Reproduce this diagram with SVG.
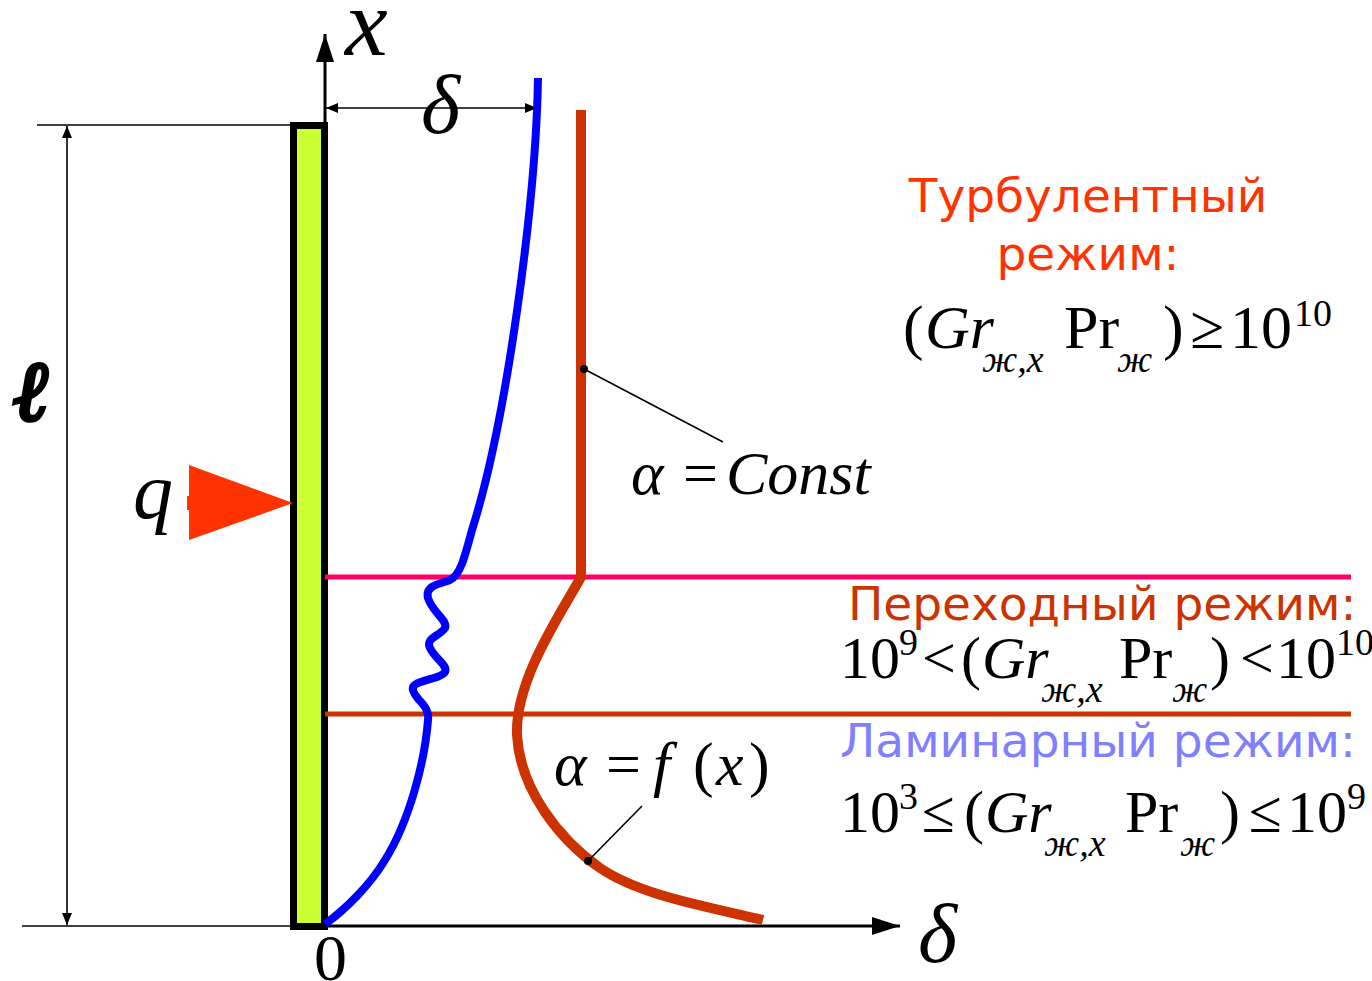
<svg xmlns="http://www.w3.org/2000/svg" width="1372" height="981" viewBox="0 0 1372 981">
<defs>
<style>
.m{font-family:"Liberation Serif","Times New Roman",serif;fill:#000}
.i{font-style:italic}
.ru{font-family:"DejaVu Sans",Verdana,sans-serif;font-size:47px}
.thin{stroke:#000;stroke-width:1.6;fill:none}
.ax{stroke:#000;stroke-width:3;fill:none}
</style>
<marker id="ah" viewBox="0 0 12 10" refX="12" refY="5" markerWidth="12" markerHeight="10" markerUnits="userSpaceOnUse" orient="auto-start-reverse"><path d="M0,0 L12,5 L0,10 z" fill="#000"/></marker>
<marker id="bh" viewBox="0 0 28 18" refX="28" refY="9" markerWidth="28" markerHeight="18" markerUnits="userSpaceOnUse" orient="auto"><path d="M0,0 L28,9 L0,18 z" fill="#000"/></marker>
</defs>
<rect width="1372" height="981" fill="#fff"/>

<g id="dimensions">
<line class="thin" x1="37" y1="125" x2="292" y2="125"/>
<line class="thin" x1="22" y1="926" x2="292" y2="926"/>
<line class="thin" x1="67" y1="126" x2="67" y2="925" marker-start="url(#ah)" marker-end="url(#ah)"/>
<line class="thin" x1="326" y1="108" x2="537" y2="108" marker-start="url(#ah)" marker-end="url(#ah)"/>
</g>

<g id="plate">
<rect x="293.5" y="125.5" width="31" height="801" fill="#CCFF33" stroke="#000" stroke-width="7"/>
</g>

<g id="axes">
<line class="ax" x1="325" y1="122" x2="325" y2="34" marker-end="url(#bh)"/>
<line class="ax" x1="325" y1="926" x2="900" y2="926" marker-end="url(#bh)"/>
</g>

<g id="zones">
<line x1="325" y1="577" x2="1351" y2="577" stroke="#FF0066" stroke-width="5"/>
<line x1="325" y1="714" x2="1351" y2="714" stroke="#CC3300" stroke-width="5"/>
</g>

<g id="heat-flux">
<rect x="187" y="496" width="4" height="14" fill="#FF3300"/>
<path d="M189,465 L293,503 L189,540 z" fill="#FF3300"/>
</g>

<g id="boundary-layer">
<path d="M538,78 C536,200 507,420 472,530 C464,560 460,575 450,580 C440,584 425,585 428,598 C432,612 448,620 445,628 C440,636 425,638 430,648 C436,660 448,665 445,672 C440,680 410,680 413,690 C415,700 430,705 428,720 C425,760 410,820 385,860 C370,885 345,910 325,924" fill="none" stroke="#0000FF" stroke-width="8"/>
</g>

<g id="alpha-curve">
<path d="M581,110 L581,577 C560,615 515,680 517,735 C520,790 560,840 600,868 C640,895 700,905 763,920" fill="none" stroke="#CC3300" stroke-width="10"/>
</g>

<g id="connectors">
<line class="thin" x1="584" y1="369" x2="723" y2="442"/>
<circle cx="584" cy="369" r="4" fill="#000"/>
<line class="thin" x1="588" y1="861" x2="642" y2="806"/>
<circle cx="588" cy="861" r="4" fill="#000"/>
</g>

<g id="labels">
<text class="m i" x="345" y="55" font-size="96">x</text>
<text class="m i" x="421" y="133" font-size="84">δ</text>
<text class="m i" x="918" y="962" font-size="84">δ</text>
<text class="m" x="314" y="980" font-size="66">0</text>
<text class="m i" x="133" y="518" font-size="80">q</text>
<text x="14" y="420" font-family="DejaVu Serif,serif" font-weight="bold" font-style="italic" font-size="84" stroke="#000" stroke-width="4">ℓ</text>

<text class="m i" font-size="62" y="494"><tspan x="631">α</tspan><tspan x="683" font-style="normal">=</tspan><tspan x="726">Const</tspan></text>
<text class="m i" font-size="62" y="785"><tspan x="554">α</tspan><tspan x="606" font-style="normal">=</tspan><tspan x="653">f</tspan><tspan x="693" font-style="normal">(</tspan><tspan x="716">x</tspan><tspan x="749" font-style="normal">)</tspan></text>
</g>

<g id="turbulent">
<text class="ru" fill="#FF3300" x="1088" y="212" text-anchor="middle">Турбулентный</text>
<text class="ru" fill="#FF3300" x="1088" y="270" text-anchor="middle">режим:</text>
<text class="m" font-size="62"><tspan x="903" y="348">(</tspan><tspan x="925" y="348" font-style="italic">Gr</tspan><tspan x="982" y="372" font-size="38" font-style="italic">ж,x</tspan><tspan x="1064" y="348">Pr</tspan><tspan x="1117" y="372" font-size="38" font-style="italic">ж</tspan><tspan x="1163" y="348">)</tspan><tspan x="1190" y="348">≥</tspan><tspan x="1230" y="348">10</tspan><tspan x="1294" y="326" font-size="38">10</tspan></text>
</g>

<g id="transition">
<text class="ru" fill="#CC3300" x="848" y="620">Переходный режим:</text>
<text class="m" font-size="60"><tspan x="840" y="678">10</tspan><tspan x="899" y="655" font-size="38">9</tspan><tspan x="922" y="678">&lt;</tspan><tspan x="961" y="678">(</tspan><tspan x="982" y="678" font-style="italic">Gr</tspan><tspan x="1041" y="702" font-size="38" font-style="italic">ж,x</tspan><tspan x="1119" y="678">Pr</tspan><tspan x="1172" y="702" font-size="38" font-style="italic">ж</tspan><tspan x="1210" y="678">)</tspan><tspan x="1240" y="678">&lt;</tspan><tspan x="1276" y="678">10</tspan><tspan x="1336" y="655" font-size="38">10</tspan></text>
</g>

<g id="laminar">
<text class="ru" fill="#8080FF" x="840" y="757">Ламинарный режим:</text>
<text class="m" font-size="60"><tspan x="840" y="832">10</tspan><tspan x="899" y="809" font-size="38">3</tspan><tspan x="922" y="832">≤</tspan><tspan x="964" y="832">(</tspan><tspan x="985" y="832" font-style="italic">Gr</tspan><tspan x="1044" y="856" font-size="38" font-style="italic">ж,x</tspan><tspan x="1125" y="832">Pr</tspan><tspan x="1180" y="856" font-size="38" font-style="italic">ж</tspan><tspan x="1220" y="832">)</tspan><tspan x="1249" y="832">≤</tspan><tspan x="1287" y="832">10</tspan><tspan x="1347" y="809" font-size="38">9</tspan></text>
</g>
</svg>
